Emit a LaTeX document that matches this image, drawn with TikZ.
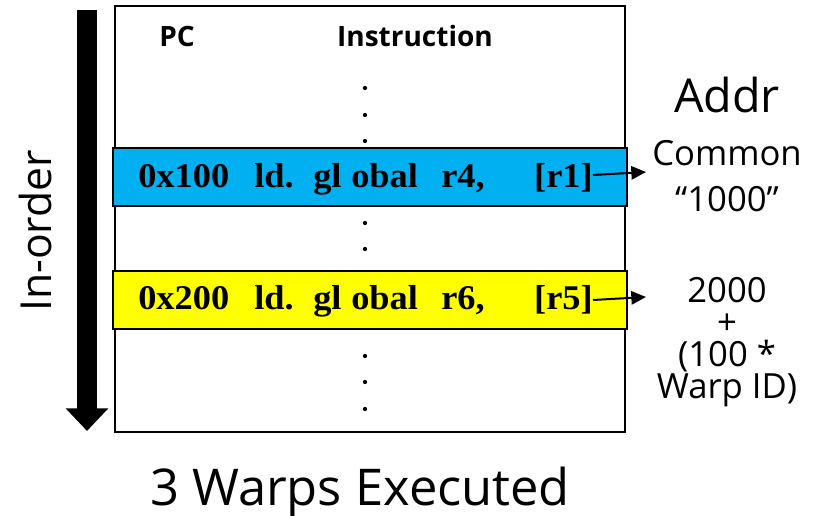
\documentclass[tikz,border=0pt]{standalone}
\usepackage{fontspec}
\setmainfont{Open Sans}
\newfontfamily\codefont[FakeStretch=1.05]{Liberation Serif}
\usetikzlibrary{arrows.meta}
\definecolor{bandblue}{HTML}{00B0F0}
\definecolor{bandyellow}{HTML}{FFFF00}
\tikzset{
  band/.style={draw=black, line width=1.8pt, minimum width=385.5pt, minimum height=43.5pt, inner sep=0pt},
  code/.style={anchor=base west, inner sep=0pt, font=\codefont\bfseries\fontsize{26}{26}\selectfont},
  codeend/.style={code, anchor=base east},
  head/.style={anchor=base, inner sep=0pt, font=\bfseries\fontsize{21}{21}\selectfont},
  addr/.style={anchor=base, inner sep=0pt, font=\fontsize{26}{26}\selectfont},
  dot/.style={circle, fill=black, inner sep=0pt, minimum size=3.2pt},
  ptr/.style={line width=1.5pt, -{Triangle[length=11pt, width=10pt]}},
}
\begin{document}
\begin{tikzpicture}[x=0.75pt, y=-0.75pt]
  \useasboundingbox (0,0) rectangle (817,516);

  % instruction table frame
  \node[draw=black, line width=1.2pt, minimum width=382.5pt, minimum height=319.5pt, inner sep=0pt] (frame) at (370,219) {};

  % column headers
  \node[head] (pc) at (177,47) {PC};
  \node[head] (ins) at (415,47) {Instruction};

  % elided instructions
  \foreach \y [count=\i] in {88,115,141} \node[dot] (da\i) at (365,\y) {};
  \foreach \y [count=\i] in {223,249} \node[dot] (db\i) at (365,\y) {};
  \foreach \y [count=\i] in {356,382,409} \node[dot] (dc\i) at (365,\y) {};

  % highlighted loads
  \node[band, fill=bandblue] (ld1) at (370,177) {};
  \node[band, fill=bandyellow] (ld2) at (370,300) {};

  \node[code] (pc1) at (138,188) {0x100};
  \node[code] (op1) at (254,188) {ld.};
  \node[code] (gl1) at (313,188) {gl};
  \node[code] (ob1) at (351,188) {obal};
  \node[code] (dst1) at (441,188) {r4,};
  \node[codeend] (src1) at (593,188) {[r1]};

  \node[code] (pc2) at (138,310) {0x200};
  \node[code] (op2) at (254,310) {ld.};
  \node[code] (gl2) at (313,310) {gl};
  \node[code] (ob2) at (351,310) {obal};
  \node[code] (dst2) at (441,310) {r6,};
  \node[codeend] (src2) at (593,310) {[r5]};

  % address column
  \node[anchor=base, inner sep=0pt, font=\fontsize{35}{35}\selectfont] (addr) at (727,113) {Addr};
  \node[addr] (cm1) at (727,166) {Common};
  \node[addr] (cm2) at (727,212) {“1000”};
  \node[anchor=north, inner sep=0pt, align=center, font=\fontsize{26}{24}\selectfont] (warp) at (727,277)
    {2000\\+\\(100 *\\Warp ID)};

  \coordinate (s1) at (593,175);
  \coordinate (t1) at (646,172);
  \coordinate (s2) at (593,300);
  \coordinate (t2) at (646,297);
  \draw[ptr] (s1) -- (t1);
  \draw[ptr] (s2) -- (t2);

  % program order arrow
  \coordinate (otop) at (87,10);
  \coordinate (obot) at (87,431);
  \draw[line width=15pt, -{Triangle[length=17pt, width=31pt]}] (otop) -- (obot);
  \node[rotate=90, inner sep=0pt, font=\fontsize{32}{32}\selectfont] (order) at (35,231) {In-order};

  % caption
  \node[anchor=base, inner sep=0pt, font=\fontsize{38}{38}\selectfont] (cap) at (360,505) {3 Warps Executed};
\end{tikzpicture}
\end{document}
